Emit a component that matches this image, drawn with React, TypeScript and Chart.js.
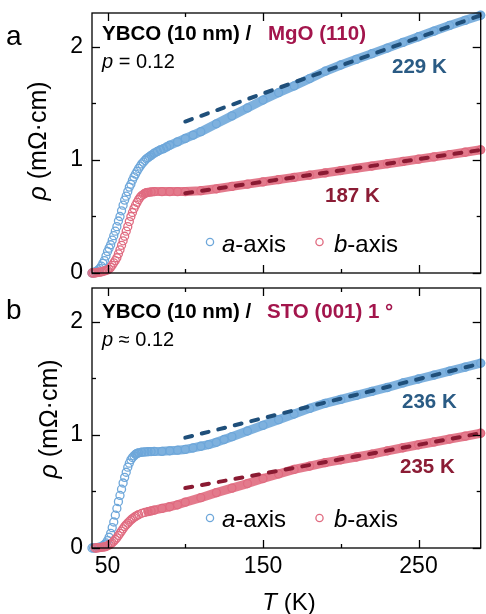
import React, { useEffect, useRef } from "react";
import { Chart, registerables } from "chart.js";
Chart.register(...registerables);

const FONT = '"Liberation Sans", Arial, Helvetica, sans-serif';

// ---------------- data ----------------
// Panel a: YBCO / MgO (110)
const tempA_a = [40, 41, 42, 43, 44, 45, 46, 47, 48, 49, 50, 51, 52, 53, 54, 55, 56, 57, 58, 59, 60, 61, 62, 63, 64, 65, 66, 67, 68, 69, 70, 71, 72, 73, 74, 75, 76, 77, 78, 80, 82, 84, 86, 88, 90, 95, 100, 105, 110, 120, 130, 140, 150, 160, 170, 180, 190, 200, 210, 220, 230, 240, 250, 260, 270, 280, 290];
const rhoA_a = [0.0, 0.0, 0.01, 0.015, 0.027, 0.04, 0.06, 0.085, 0.11, 0.15, 0.19, 0.22, 0.25, 0.29, 0.33, 0.37, 0.41, 0.46, 0.5, 0.55, 0.6, 0.645, 0.68, 0.72, 0.76, 0.785, 0.82, 0.85, 0.875, 0.9, 0.925, 0.945, 0.965, 0.98, 0.995, 1.01, 1.02, 1.03, 1.04, 1.06, 1.075, 1.09, 1.1, 1.115, 1.13, 1.16, 1.19, 1.22, 1.25, 1.32, 1.39, 1.46, 1.53, 1.595, 1.655, 1.72, 1.785, 1.84, 1.89, 1.94, 1.99, 2.04, 2.09, 2.14, 2.19, 2.235, 2.28];
const tempA_b = [40, 41, 42, 43, 44, 45, 46, 47, 48, 49, 50, 51, 52, 53, 54, 55, 56, 57, 58, 59, 60, 61, 62, 63, 64, 65, 66, 67, 68, 69, 70, 71, 72, 73, 74, 75, 76, 78, 80, 85, 90, 95, 100, 110, 120, 130, 140, 150, 160, 170, 180, 190, 200, 210, 220, 230, 240, 250, 260, 270, 280, 290];
const rhoA_b = [0.0, 0.0, 0.0, 0.003, 0.005, 0.008, 0.01, 0.014, 0.018, 0.022, 0.027, 0.035, 0.05, 0.068, 0.09, 0.11, 0.135, 0.17, 0.205, 0.245, 0.285, 0.325, 0.37, 0.41, 0.455, 0.5, 0.535, 0.57, 0.6, 0.625, 0.65, 0.67, 0.685, 0.695, 0.705, 0.71, 0.713, 0.717, 0.72, 0.72, 0.72, 0.72, 0.72, 0.728, 0.745, 0.766, 0.786, 0.806, 0.826, 0.846, 0.866, 0.886, 0.906, 0.926, 0.946, 0.967, 0.987, 1.007, 1.027, 1.047, 1.068, 1.09];
const fitA_aT = [100, 290];
const fitA_aR = [1.34, 2.28];
const fitA_bT = [100, 290];
const fitA_bR = [0.706, 1.088];

// Panel b: YBCO / STO (001) 1°
const tempB_a = [40, 41, 42, 43, 44, 45, 46, 47, 48, 49, 50, 51, 52, 53, 54, 55, 56, 57, 58, 59, 60, 61, 62, 63, 64, 65, 66, 67, 68, 69, 70, 72, 74, 76, 78, 80, 85, 90, 95, 100, 105, 110, 115, 120, 125, 130, 140, 150, 160, 170, 180, 190, 200, 210, 220, 230, 240, 250, 260, 270, 280, 290];
const rhoB_a = [0.0, 0.0, 0.0, 0.003, 0.005, 0.008, 0.01, 0.02, 0.03, 0.045, 0.065, 0.095, 0.13, 0.18, 0.23, 0.29, 0.35, 0.41, 0.465, 0.52, 0.575, 0.625, 0.67, 0.715, 0.75, 0.78, 0.8, 0.815, 0.828, 0.837, 0.842, 0.847, 0.85, 0.852, 0.853, 0.854, 0.855, 0.86, 0.865, 0.872, 0.885, 0.9, 0.915, 0.935, 0.96, 0.985, 1.035, 1.085, 1.135, 1.185, 1.235, 1.28, 1.315, 1.35, 1.385, 1.42, 1.46, 1.495, 1.53, 1.565, 1.6, 1.635];
const tempB_b = [42, 43, 44, 45, 46, 47, 48, 49, 50, 51, 52, 53, 54, 55, 56, 57, 58, 59, 60, 61, 62, 63, 64, 65, 66, 67, 68, 69, 70, 72, 74, 76, 78, 80, 85, 90, 95, 100, 110, 120, 130, 140, 150, 160, 170, 180, 190, 200, 210, 220, 230, 240, 250, 260, 270, 280, 290];
const rhoB_b = [0.0, 0.0, 0.002, 0.004, 0.006, 0.008, 0.01, 0.013, 0.02, 0.027, 0.035, 0.047, 0.06, 0.075, 0.09, 0.11, 0.13, 0.15, 0.17, 0.19, 0.205, 0.22, 0.235, 0.248, 0.26, 0.27, 0.28, 0.288, 0.295, 0.307, 0.315, 0.322, 0.328, 0.335, 0.35, 0.365, 0.382, 0.405, 0.445, 0.49, 0.53, 0.57, 0.615, 0.655, 0.695, 0.725, 0.755, 0.78, 0.805, 0.83, 0.86, 0.887, 0.913, 0.938, 0.964, 0.989, 1.015];
const fitB_aT = [100, 290];
const fitB_aR = [0.976, 1.632];
const fitB_bT = [100, 290];
const fitB_bR = [0.53, 1.015];

// axes
const xLimits = [40, 290];
const yLimits = [0, 2.3];
const xMajorTicks = [50, 150, 250];
const xMinorTicks = [100, 200];
const yMajorTicks = [0, 1, 2];
const yMinorTicks = [0.5, 1.5];

// text
const panelLabels = ["a", "b"];
const sampleLabel = "YBCO (10 nm) /";
const substrateLabels = ["MgO (110)", "STO (001) 1 \u00b0"];
const dopingLabels = [" = 0.12", " \u2248 0.12"];
const crossoverA = ["229 K", "187 K"];
const crossoverB = ["236 K", "235 K"];
const legendNames = ["a", "b"];

// ---------------- styles ----------------
const C_BLUE = "#6ea7da";
const C_BLUE_BAND = "rgba(112,168,218,0.9)";
const C_RED = "#e06b80";
const C_RED_BAND = "rgba(224,108,128,0.9)";
const C_DASH_BLUE = "#1f4f7a";
const C_DASH_RED = "#8a1a32";
const C_TXT_BLUE = "#2a5b84";
const C_TXT_RED = "#8b1c35";
const C_SUB = "#a3154c";

type Run = { t: string; f: string; c: string };
const reg = (s: number) => `${s}px ${FONT}`;
const ital = (s: number) => `italic ${s}px ${FONT}`;
const bold = (s: number) => `bold ${s}px ${FONT}`;

function drawRuns(ctx: CanvasRenderingContext2D, runs: Run[], x: number, y: number, align: "left" | "center" = "left") {
  let w = 0;
  runs.forEach((r) => {
    ctx.font = r.f;
    w += ctx.measureText(r.t).width;
  });
  let cx = align === "center" ? x - w / 2 : x;
  ctx.textAlign = "left";
  ctx.textBaseline = "alphabetic";
  runs.forEach((r) => {
    ctx.font = r.f;
    ctx.fillStyle = r.c;
    ctx.fillText(r.t, cx, y);
    cx += ctx.measureText(r.t).width;
  });
}

type TextItem = { runs: Run[]; x: number; y: number; align?: "left" | "center"; rotate?: boolean };
type CircleItem = { x: number; y: number; c: string };

interface PanelCfg {
  top: number;
  height: number;
  padTop: number;
  xAxisH: number;
  padBottom: number;
  showXLabels: boolean;
  aT: number[];
  aR: number[];
  bT: number[];
  bR: number[];
  faT: number[];
  faR: number[];
  fbT: number[];
  fbR: number[];
  cutA: number;
  cutB: number;
  texts: TextItem[];
  circles: CircleItem[];
}

function pts(t: number[], r: number[]) {
  return t.map((v, i) => ({ x: v, y: r[i] }));
}

function dataSet(t: number[], r: number[], c: string, band: string, cut: number) {
  return {
    data: pts(t, r),
    showLine: true,
    borderColor: band,
    borderWidth: 9,
    borderJoinStyle: "round",
    borderCapStyle: "round",
    segment: {
      borderColor: (ctx: any) => (ctx.p0.parsed.x < cut ? "rgba(0,0,0,0)" : undefined),
    },
    pointRadius: 4,
    pointBorderWidth: 1.3,
    pointBorderColor: c,
    pointBackgroundColor: "rgba(255,255,255,0)",
    pointHoverRadius: 4,
    clip: false,
  };
}

function dashSet(t: number[], r: number[], c: string) {
  return {
    data: pts(t, r),
    showLine: true,
    borderColor: c,
    borderWidth: 4,
    borderDash: [7, 10],
    borderCapStyle: "round",
    pointRadius: 0,
    clip: false,
  };
}

function Panel({ cfg }: { cfg: PanelCfg }) {
  const ref = useRef<HTMLCanvasElement | null>(null);
  useEffect(() => {
    if (!ref.current) return;
    const decor = {
      id: "decor",
      afterDraw(chart: any) {
        const { ctx, chartArea: ca, scales } = chart;
        const x = scales.x;
        const y = scales.y;
        ctx.save();
        ctx.strokeStyle = "#000";
        ctx.lineWidth = 1.3;
        ctx.strokeRect(ca.left, ca.top, ca.right - ca.left, ca.bottom - ca.top);
        const line = (x1: number, y1: number, x2: number, y2: number) => {
          ctx.beginPath();
          ctx.moveTo(x1, y1);
          ctx.lineTo(x2, y2);
          ctx.stroke();
        };
        const xt = (v: number, len: number) => {
          const p = Math.round(x.getPixelForValue(v)) + 0.5;
          line(p, ca.bottom, p, ca.bottom - len);
          line(p, ca.top, p, ca.top + len);
        };
        const yt = (v: number, len: number) => {
          const p = Math.round(y.getPixelForValue(v)) + 0.5;
          line(ca.left, p, ca.left + len, p);
          line(ca.right, p, ca.right - len, p);
        };
        xMajorTicks.forEach((v) => xt(v, 8));
        xMinorTicks.forEach((v) => xt(v, 4));
        yMajorTicks.forEach((v) => yt(v, 8));
        yMinorTicks.forEach((v) => yt(v, 4));
        cfg.circles.forEach((c) => {
          ctx.beginPath();
          ctx.arc(c.x, c.y - cfg.top, 3.6, 0, Math.PI * 2);
          ctx.strokeStyle = c.c;
          ctx.lineWidth = 1.3;
          ctx.stroke();
        });
        cfg.texts.forEach((t) => {
          if (t.rotate) {
            ctx.save();
            ctx.translate(t.x, t.y - cfg.top);
            ctx.rotate(-Math.PI / 2);
            drawRuns(ctx, t.runs, 0, 0, "center");
            ctx.restore();
          } else {
            drawRuns(ctx, t.runs, t.x, t.y - cfg.top, t.align || "left");
          }
        });
        ctx.restore();
      },
    };
    const chart = new Chart(ref.current, {
      type: "scatter",
      data: {
        datasets: [
          dashSet(cfg.faT, cfg.faR, C_DASH_BLUE),
          dashSet(cfg.fbT, cfg.fbR, C_DASH_RED),
          dataSet(cfg.bT, cfg.bR, C_RED, C_RED_BAND, cfg.cutB),
          dataSet(cfg.aT, cfg.aR, C_BLUE, C_BLUE_BAND, cfg.cutA),
        ] as any,
      },
      options: {
        animation: false,
        responsive: false,
        maintainAspectRatio: false,
        events: [],
        layout: { padding: { top: cfg.padTop, right: 1, bottom: cfg.padBottom, left: 0 } },
        plugins: { legend: { display: false }, tooltip: { enabled: false } },
        scales: {
          x: {
            type: "linear",
            min: xLimits[0],
            max: xLimits[1],
            grid: { display: false, drawTicks: false },
            border: { display: false },
            ticks: {
              display: cfg.showXLabels,
              font: { family: FONT, size: 23 },
              color: "#000",
              padding: 5,
              maxRotation: 0,
              autoSkip: false,
            },
            afterBuildTicks: (s: any) => {
              s.ticks = xMajorTicks.map((v) => ({ value: v }));
            },
            afterFit: (s: any) => {
              s.height = cfg.xAxisH;
              s.paddingLeft = 0;
              s.paddingRight = 0;
              s.paddingTop = 0;
              s.paddingBottom = 0;
            },
          },
          y: {
            type: "linear",
            min: yLimits[0],
            max: yLimits[1],
            grid: { display: false, drawTicks: false },
            border: { display: false },
            ticks: {
              font: { family: FONT, size: 23 },
              color: "#000",
              padding: 9,
              includeBounds: false,
            },
            afterBuildTicks: (s: any) => {
              s.ticks = yMajorTicks.map((v) => ({ value: v }));
            },
            afterFit: (s: any) => {
              s.width = 92;
              s.paddingLeft = 0;
              s.paddingRight = 0;
              s.paddingTop = 0;
              s.paddingBottom = 0;
            },
          },
        },
      } as any,
      plugins: [decor],
    });
    return () => chart.destroy();
  }, [cfg]);
  return (
    <canvas
      ref={ref}
      width={486}
      height={cfg.height}
      style={{ position: "absolute", left: 0, top: cfg.top, width: 486, height: cfg.height }}
    />
  );
}

const panelA: PanelCfg = {
  top: 0,
  height: 280,
  padTop: 13,
  xAxisH: 0,
  padBottom: 7,
  showXLabels: false,
  aT: tempA_a,
  aR: rhoA_a,
  bT: tempA_b,
  bR: rhoA_b,
  faT: fitA_aT,
  faR: fitA_aR,
  fbT: fitA_bT,
  fbR: fitA_bR,
  cutA: 78,
  cutB: 74,
  circles: [
    { x: 210, y: 242, c: C_BLUE },
    { x: 319.5, y: 242, c: C_RED },
  ],
  texts: [
    { runs: [{ t: panelLabels[0], f: reg(28), c: "#000" }], x: 6, y: 45 },
    { runs: [{ t: sampleLabel, f: bold(20.5), c: "#000" }], x: 102, y: 40 },
    { runs: [{ t: substrateLabels[0], f: bold(20.5), c: C_SUB }], x: 268, y: 40 },
    { runs: [{ t: "p", f: ital(20), c: "#000" }, { t: dopingLabels[0], f: reg(20), c: "#000" }], x: 102, y: 67.5 },
    { runs: [{ t: crossoverA[0], f: bold(20.5), c: C_TXT_BLUE }], x: 392, y: 73 },
    { runs: [{ t: crossoverA[1], f: bold(20.5), c: C_TXT_RED }], x: 325, y: 202 },
    { runs: [{ t: legendNames[0], f: ital(24), c: "#000" }, { t: "-axis", f: reg(24), c: "#000" }], x: 222, y: 251.5 },
    { runs: [{ t: legendNames[1], f: ital(24), c: "#000" }, { t: "-axis", f: reg(24), c: "#000" }], x: 334, y: 251.5 },
    { runs: [{ t: "\u03c1", f: ital(25), c: "#000" }, { t: " (m\u03a9\u00b7cm)", f: reg(25), c: "#000" }], x: 46, y: 141, rotate: true },
  ],
};

const panelB: PanelCfg = {
  top: 280,
  height: 334,
  padTop: 8,
  xAxisH: 66,
  padBottom: 0,
  showXLabels: true,
  aT: tempB_a,
  aR: rhoB_a,
  bT: tempB_b,
  bR: rhoB_b,
  faT: fitB_aT,
  faR: fitB_aR,
  fbT: fitB_bT,
  fbR: fitB_bR,
  cutA: 68,
  cutB: 76,
  circles: [
    { x: 210, y: 518, c: C_BLUE },
    { x: 319.5, y: 518, c: C_RED },
  ],
  texts: [
    { runs: [{ t: panelLabels[1], f: reg(28), c: "#000" }], x: 6, y: 319 },
    { runs: [{ t: sampleLabel, f: bold(20.5), c: "#000" }], x: 102, y: 318 },
    { runs: [{ t: substrateLabels[1], f: bold(20.5), c: C_SUB }], x: 267, y: 318 },
    { runs: [{ t: "p", f: ital(20), c: "#000" }, { t: dopingLabels[1], f: reg(20), c: "#000" }], x: 102, y: 346 },
    { runs: [{ t: crossoverB[0], f: bold(20.5), c: C_TXT_BLUE }], x: 402, y: 408 },
    { runs: [{ t: crossoverB[1], f: bold(20.5), c: C_TXT_RED }], x: 400, y: 473 },
    { runs: [{ t: legendNames[0], f: ital(24), c: "#000" }, { t: "-axis", f: reg(24), c: "#000" }], x: 222, y: 527 },
    { runs: [{ t: legendNames[1], f: ital(24), c: "#000" }, { t: "-axis", f: reg(24), c: "#000" }], x: 334, y: 527 },
    { runs: [{ t: "\u03c1", f: ital(25), c: "#000" }, { t: " (m\u03a9\u00b7cm)", f: reg(25), c: "#000" }], x: 57, y: 419, rotate: true },
    { runs: [{ t: "T", f: ital(24), c: "#000" }, { t: " (K)", f: reg(24), c: "#000" }], x: 289, y: 610, align: "center" },
  ],
};

export default function App() {
  return (
    <div style={{ position: "absolute", left: 0, top: 0, width: 486, height: 614, background: "#fff", overflow: "hidden" }}>
      <Panel cfg={panelA} />
      <Panel cfg={panelB} />
    </div>
  );
}
